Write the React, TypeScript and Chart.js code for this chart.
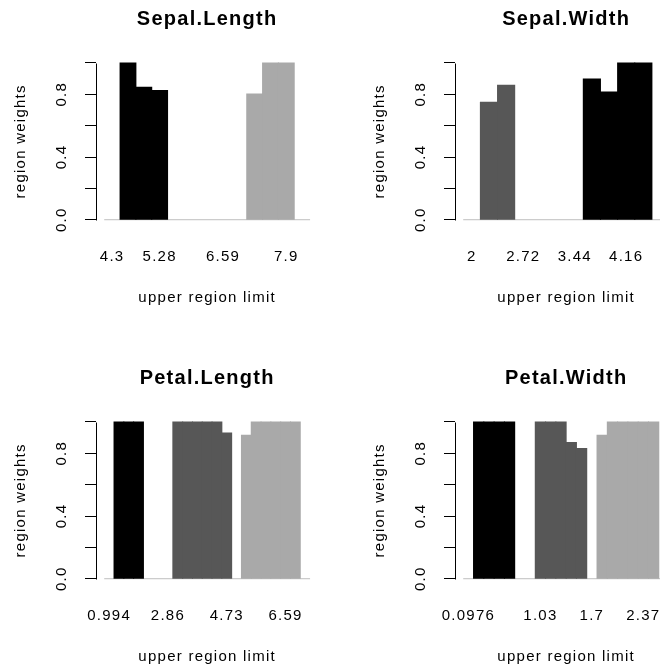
import React, { useEffect, useRef } from 'react';
import { Chart, registerables } from 'chart.js';

Chart.register(...registerables);

const FONT = "'Liberation Sans', Arial, Helvetica, sans-serif";

// ---- data (one bar per upper region limit) ----
const sepalLengthTicks = ['4.3', '', '', '5.28', '', '', '', '6.59', '', '', '', '7.9', ''];
const sepalLengthWeights = [0, 1, 0.845, 0.824, 0, 0, 0, 0, 0, 0.802, 1, 1, 0];
const sepalLengthGroups = [0, 1, 1, 1, 0, 0, 0, 0, 0, 3, 3, 3, 0];

const sepalWidthTicks = ['2', '', '', '2.72', '', '', '3.44', '', '', '4.16', '', ''];
const sepalWidthWeights = [0, 0.749, 0.858, 0, 0, 0, 0, 0.898, 0.815, 1, 1, 0];
const sepalWidthGroups = [0, 2, 2, 0, 0, 0, 0, 1, 1, 1, 1, 0];

const petalLengthTicks = ['0.994', '', '', '', '', '', '2.86', '', '', '', '', '', '4.73', '', '', '', '', '', '6.59', '', ''];
const petalLengthWeights = [0, 1, 1, 1, 0, 0, 0, 1, 1, 1, 1, 1, 0.93, 0, 0.915, 1, 1, 1, 1, 1, 0];
const petalLengthGroups = [0, 1, 1, 1, 0, 0, 0, 2, 2, 2, 2, 2, 2, 0, 3, 3, 3, 3, 3, 3, 0];

const petalWidthTicks = ['0.0976', '', '', '', '', '', '', '1.03', '', '', '', '', '1.7', '', '', '', '', '2.37', '', ''];
const petalWidthWeights = [0, 1, 1, 1, 1, 0, 0, 1, 1, 1, 0.869, 0.831, 0, 0.915, 1, 1, 1, 1, 1, 0];
const petalWidthGroups = [0, 1, 1, 1, 1, 0, 0, 2, 2, 2, 2, 2, 0, 3, 3, 3, 3, 3, 3, 0];

const yTickValues = [0, 0.2, 0.4, 0.6, 0.8, 1.0];
const yTickLabels = ['0.0', '', '0.4', '', '0.8', ''];

const groupColors = ['rgba(0,0,0,0)', '#000000', '#575757', '#a9a9a9'];

const PANEL = 359;

const spacingPlugin = {
  id: 'letterSpacing',
  beforeUpdate(chart: any) {
    chart.ctx.letterSpacing = '1.25px';
  },
  beforeDraw(chart: any) {
    chart.ctx.letterSpacing = '1.25px';
  },
};

const yAxisLinePlugin = {
  id: 'rAxisLine',
  afterDraw(chart: any) {
    const ys = chart.scales.y;
    const ctx = chart.ctx;
    const x = Math.round(chart.chartArea.left) + 0.5;
    ctx.save();
    ctx.strokeStyle = '#000';
    ctx.lineWidth = 1;
    ctx.beginPath();
    ctx.moveTo(x, Math.round(ys.getPixelForValue(yTickValues[0])) + 0.5);
    ctx.lineTo(x, Math.round(ys.getPixelForValue(yTickValues[yTickValues.length - 1])) + 0.5);
    ctx.stroke();
    ctx.restore();
  },
};

type PanelProps = {
  title: string;
  ticks: string[];
  weights: number[];
  groups: number[];
  left: number;
  top: number;
};

function Panel({ title, ticks, weights, groups, left, top }: PanelProps) {
  const ref = useRef<HTMLCanvasElement>(null);

  useEffect(() => {
    const n = weights.length;
    const ext = 0.04 * n;
    const chart = new Chart(ref.current as HTMLCanvasElement, {
      type: 'bar',
      data: {
        datasets: [
          {
            type: 'bar',
            label: title,
            data: weights.map((w, i) => ({ x: i, y: w })),
            backgroundColor: groups.map((g) => groupColors[g]),
            borderWidth: 0,
            inflateAmount: 0.5,
            barPercentage: 1,
            categoryPercentage: 1,
            order: 1,
          } as any,
          {
            type: 'line',
            label: 'baseline',
            data: [
              { x: -0.5, y: 0 },
              { x: n - 0.5, y: 0 },
            ],
            borderColor: '#bebebe',
            borderWidth: 1,
            pointRadius: 0,
            fill: false,
            order: 2,
          } as any,
        ],
      },
      options: {
        responsive: false,
        animation: false,
        devicePixelRatio: 1,
        events: [],
        layout: { padding: { left: 0, top: 0, right: 40.7, bottom: 0 } },
        plugins: {
          legend: { display: false },
          tooltip: { enabled: false },
          title: {
            display: true,
            text: title,
            color: '#000',
            fullSize: false,
            font: { family: FONT, size: 20, weight: 'bold' },
            padding: { top: 7, bottom: 25.7 },
          },
        },
        scales: {
          x: {
            type: 'linear',
            offset: false,
            min: -0.5 - ext,
            max: n - 0.5 + ext,
            grid: { display: false, drawTicks: true, tickLength: 21.6 },
            border: { display: false },
            afterBuildTicks: (scale: any) => {
              scale.ticks = ticks
                .map((t, i) => ({ t, i }))
                .filter((o) => o.t !== '')
                .map((o) => ({ value: o.i }));
            },
            afterFit: (scale: any) => {
              scale.height = PANEL - 226;
              scale.paddingLeft = 0;
              scale.paddingRight = 0;
            },
            ticks: {
              autoSkip: false,
              maxRotation: 0,
              minRotation: 0,
              padding: 0,
              color: '#000',
              font: { family: FONT, size: 15 },
              callback: (v: any) => ticks[Math.round(Number(v))] ?? '',
            },
            title: {
              display: true,
              text: 'upper region limit',
              color: '#000',
              font: { family: FONT, size: 15 },
              padding: { top: 0, bottom: 52 },
            },
          },
          y: {
            type: 'linear',
            min: -0.04,
            max: 1.04,
            grid: {
              display: true,
              drawOnChartArea: false,
              drawTicks: true,
              tickLength: 11,
              color: '#000',
              lineWidth: 1,
            },
            border: { display: false },
            afterBuildTicks: (scale: any) => {
              scale.ticks = yTickValues.map((v) => ({ value: v }));
            },
            afterFit: (scale: any) => {
              scale.width = 96;
              scale.paddingTop = 0;
              scale.paddingBottom = 0;
            },
            ticks: {
              autoSkip: false,
              minRotation: 90,
              maxRotation: 90,
              crossAlign: 'center',
              padding: 11,
              color: '#000',
              font: { family: FONT, size: 15 },
              callback: (v: any) => {
                const idx = yTickValues.findIndex((t) => Math.abs(t - Number(v)) < 1e-9);
                return idx >= 0 ? yTickLabels[idx] : '';
              },
            },
            title: {
              display: true,
              text: 'region weights',
              color: '#000',
              font: { family: FONT, size: 15 },
              padding: { top: 11.5, bottom: 0 },
            },
          },
        },
      } as any,
      plugins: [spacingPlugin, yAxisLinePlugin],
    });
    return () => chart.destroy();
  }, []);

  return (
    <canvas
      ref={ref}
      width={PANEL}
      height={PANEL}
      style={{ position: 'absolute', left, top, width: PANEL, height: PANEL }}
    />
  );
}

export default function App() {
  return (
    <div
      style={{
        position: 'fixed',
        left: 0,
        top: 0,
        width: 660,
        height: 669,
        overflow: 'hidden',
        background: '#ffffff',
      }}
    >
      <Panel title="Sepal.Length" ticks={sepalLengthTicks} weights={sepalLengthWeights} groups={sepalLengthGroups} left={0} top={0} />
      <Panel title="Sepal.Width" ticks={sepalWidthTicks} weights={sepalWidthWeights} groups={sepalWidthGroups} left={PANEL} top={0} />
      <Panel title="Petal.Length" ticks={petalLengthTicks} weights={petalLengthWeights} groups={petalLengthGroups} left={0} top={PANEL} />
      <Panel title="Petal.Width" ticks={petalWidthTicks} weights={petalWidthWeights} groups={petalWidthGroups} left={PANEL} top={PANEL} />
    </div>
  );
}
